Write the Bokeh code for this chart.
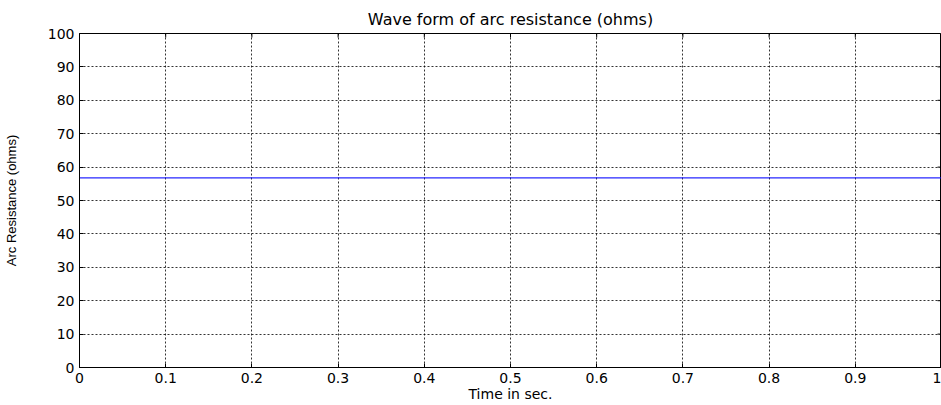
from bokeh.plotting import figure
from bokeh.models import FixedTicker, Range1d
from bokeh.embed import file_html
from bokeh.resources import INLINE

# data
time_s = [0.0, 1.0]
arc_resistance = [56.8, 56.8]
x_ticks = [0, 0.1, 0.2, 0.3, 0.4, 0.5, 0.6, 0.7, 0.8, 0.9, 1.0]
x_tick_labels = ["0", "0.1", "0.2", "0.3", "0.4", "0.5", "0.6", "0.7", "0.8", "0.9", "1"]
y_ticks = [0, 10, 20, 30, 40, 50, 60, 70, 80, 90, 100]

FONT = "DejaVu Sans"
X_MIN, X_MAX, Y_MIN, Y_MAX = 0, 1, 0, 100

p = figure(width=941, height=405, output_backend="svg", toolbar_location=None,
           x_range=Range1d(X_MIN, X_MAX), y_range=Range1d(Y_MIN, Y_MAX),
           min_border_left=79, min_border_right=0, min_border_top=33, min_border_bottom=38,
           title="Wave form of arc resistance (ohms)")
p.background_fill_color = "white"
p.border_fill_color = "white"
p.outline_line_color = "black"
p.outline_line_width = 1

p.title.align = "center"
p.title.vertical_align = "middle"
p.title.text_font = FONT
p.title.text_font_style = "normal"
p.title.text_font_size = "16px"
p.title.text_color = "black"
p.title.offset = 0
p.title.standoff = 8

xax = p.xaxis[0]
yax = p.yaxis[0]

for ax in [xax, yax]:
    ax.major_tick_in = 4
    ax.major_tick_out = 0
    ax.minor_tick_in = 0
    ax.minor_tick_out = 0
    ax.axis_line_color = "black"
    ax.major_tick_line_color = "black"
    ax.major_label_text_font = FONT
    ax.major_label_text_font_size = "14px"
    ax.major_label_text_color = "black"
    ax.axis_label_text_font_style = "normal"
    ax.axis_label_text_color = "black"

xax.ticker = FixedTicker(ticks=x_ticks)
xax.major_label_overrides = {t: l for t, l in zip(x_ticks, x_tick_labels)}
xax.axis_label = "Time in sec."
xax.axis_label_text_font = FONT
xax.axis_label_text_font_size = "14px"
xax.axis_label_standoff = 0
xax.major_label_standoff = 5

yax.ticker = FixedTicker(ticks=y_ticks)
yax.axis_label = "Arc Resistance (ohms)"
yax.axis_label_text_font = "Liberation Sans"
yax.axis_label_text_font_size = "13px"
yax.axis_label_standoff = 26
yax.major_label_standoff = 5

p.xgrid.ticker = FixedTicker(ticks=x_ticks)
p.ygrid.ticker = FixedTicker(ticks=y_ticks)
for g in [p.xgrid[0], p.ygrid[0]]:
    g.grid_line_color = "black"
    g.grid_line_dash = "2 2"
    g.grid_line_width = 1
    g.grid_line_alpha = 0.8

# inward ticks on the top and right edges of the box (MATLAB style)
n_x = len(x_ticks)
n_y = len(y_ticks)
p.segment(x0=x_ticks, y0=[Y_MAX] * n_x, x1=x_ticks, y1=[Y_MAX - 1.2] * n_x,
          line_color="black", line_width=1)
p.segment(x0=[X_MAX] * n_y, y0=y_ticks, x1=[X_MAX - 0.0046] * n_y, y1=y_ticks,
          line_color="black", line_width=1)

p.line(x=time_s, y=arc_resistance, line_color="blue", line_width=1.2, line_alpha=0.85)

open("out.html", "w").write(file_html(p, INLINE))
